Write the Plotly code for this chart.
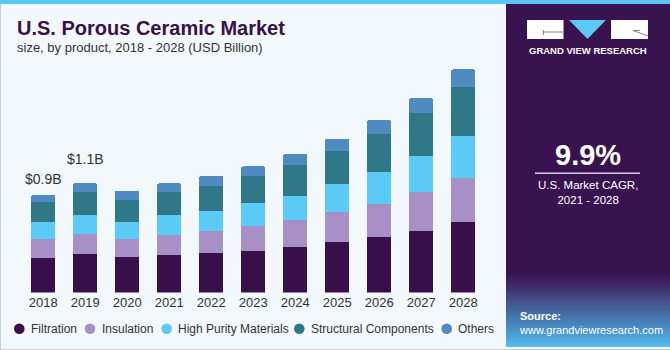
import plotly.graph_objects as go

# ---------------- data (USD Billion) ----------------
years = ["2018", "2019", "2020", "2021", "2022", "2023", "2024", "2025", "2026", "2027", "2028"]
filtration = [0.322, 0.356, 0.329, 0.344, 0.363, 0.387, 0.424, 0.465, 0.517, 0.572, 0.650]
insulation = [0.170, 0.188, 0.169, 0.188, 0.209, 0.231, 0.250, 0.281, 0.306, 0.361, 0.413]
high_purity = [0.157, 0.173, 0.155, 0.182, 0.185, 0.210, 0.219, 0.259, 0.291, 0.328, 0.383]
structural = [0.188, 0.213, 0.206, 0.213, 0.229, 0.250, 0.287, 0.303, 0.357, 0.401, 0.456]
others = [0.065, 0.081, 0.083, 0.083, 0.093, 0.090, 0.102, 0.117, 0.124, 0.136, 0.164]
series_names = ["Filtration", "Insulation", "High Purity Materials", "Structural Components", "Others"]
value_label_years = ["2018", "2019"]
value_labels = ["$0.9B", "$1.1B"]
cagr_text = "9.9%"

# ---------------- styling ----------------
W, H = 670, 350
colors = ["#380F4A", "#A690C5", "#5BCAF6", "#2E7888", "#4F8BC0"]
BG = "#F3F8FC"
PANEL = "#381350"
FONT = "Liberation Sans, Arial, sans-serif"


def X(px):
    return px / W


def Y(py):
    return 1 - py / H


base_px, top_px = 292.5, 60.0
px_per_b = 108.0

fig = go.Figure()
all_series = [filtration, insulation, high_purity, structural, others]
for name, vals, col in zip(series_names, all_series, colors):
    fig.add_trace(go.Bar(
        x=years, y=vals, name=name,
        marker=dict(color=col, line=dict(width=0)),
        showlegend=False,
        hoverinfo="skip",
    ))

totals = [sum(v) for v in zip(*all_series)]

shapes = []
annotations = []

# top strip and borders
shapes.append(dict(type="rect", xref="paper", yref="paper", x0=0, x1=1, y0=Y(4), y1=1,
                   fillcolor="#5CC6F2", line=dict(width=0), layer="below"))
shapes.append(dict(type="line", xref="paper", yref="paper", x0=X(0.5), x1=X(0.5), y0=0, y1=Y(4),
                   line=dict(color="#C8CDD2", width=1)))
shapes.append(dict(type="line", xref="paper", yref="paper", x0=0, x1=1, y0=Y(349.5), y1=Y(349.5),
                   line=dict(color="#C8CDD2", width=1)))

# right panel
shapes.append(dict(type="rect", xref="paper", yref="paper", x0=X(506), x1=1, y0=Y(347), y1=Y(4),
                   fillcolor=PANEL, line=dict(width=0), layer="below"))
# gradient at panel bottom
stops = [(272, (0x38, 0x13, 0x50)), (286, (0x3E, 0x2A, 0x68)), (300, (0x46, 0x50, 0x88)),
         (318, (0x46, 0x77, 0xB0)), (335, (0x4A, 0x9E, 0xD6)), (347, (0x55, 0xBD, 0xEC))]
for i in range(len(stops) - 1):
    y0, c0 = stops[i]
    y1, c1 = stops[i + 1]
    n = int(y1 - y0)
    for k in range(n):
        t = (k + 0.5) / n
        c = tuple(int(round(a + (b - a) * t)) for a, b in zip(c0, c1))
        shapes.append(dict(type="rect", xref="paper", yref="paper", x0=X(506), x1=1,
                           y0=Y(y0 + k + 1), y1=Y(y0 + k),
                           fillcolor="rgb(%d,%d,%d)" % c, line=dict(width=0), layer="below"))

# logo
shapes.append(dict(type="rect", xref="paper", yref="paper", x0=X(527), x1=X(563.5), y0=Y(39), y1=Y(20),
                   fillcolor="white", line=dict(width=0)))
shapes.append(dict(type="rect", xref="paper", yref="paper", x0=X(611), x1=X(648), y0=Y(39), y1=Y(20),
                   fillcolor="white", line=dict(width=0)))
shapes.append(dict(type="path", xref="paper", yref="paper",
                   path="M %f %f L %f %f L %f %f Z" % (X(569), Y(20), X(606), Y(20), X(587.5), Y(39)),
                   fillcolor="#5BC8F5", line=dict(width=0)))
shapes.append(dict(type="line", xref="paper", yref="paper", x0=X(543.5), x1=X(563.5), y0=Y(32), y1=Y(32),
                   line=dict(color="#8E8499", width=1)))
shapes.append(dict(type="line", xref="paper", yref="paper", x0=X(543.5), x1=X(543.5), y0=Y(30), y1=Y(35),
                   line=dict(color="#8E8499", width=1)))
shapes.append(dict(type="line", xref="paper", yref="paper", x0=X(633), x1=X(648), y0=Y(30.5), y1=Y(36),
                   line=dict(color="#8E8499", width=1)))
shapes.append(dict(type="line", xref="paper", yref="paper", x0=X(633), x1=X(640), y0=Y(30.5), y1=Y(30.5),
                   line=dict(color="#8E8499", width=1)))
annotations.append(dict(xref="paper", yref="paper", x=X(587.5), y=Y(51), text="<b>GRAND VIEW RESEARCH</b>",
                        showarrow=False, xanchor="center", yanchor="middle",
                        font=dict(family=FONT, size=9.5, color="white")))

# CAGR
annotations.append(dict(xref="paper", yref="paper", x=X(587.5), y=Y(155), text="<b>%s</b>" % cagr_text,
                        showarrow=False, xanchor="center", yanchor="middle",
                        font=dict(family=FONT, size=29, color="white")))
shapes.append(dict(type="line", xref="paper", yref="paper", x0=X(535), x1=X(640), y0=Y(173.3), y1=Y(173.3),
                   line=dict(color="#CFC8DC", width=1.5)))
annotations.append(dict(xref="paper", yref="paper", x=X(587.5), y=Y(193), text="U.S. Market CAGR,<br>2021 - 2028",
                        showarrow=False, xanchor="center", yanchor="middle", align="center",
                        font=dict(family=FONT, size=11.5, color="white")))

# Source
annotations.append(dict(xref="paper", yref="paper", x=X(517), y=Y(323), text="<b>Source:</b><br>www.grandviewresearch.com",
                        showarrow=False, xanchor="left", yanchor="middle", align="left",
                        font=dict(family=FONT, size=11, color="white")))

# title
annotations.append(dict(xref="paper", yref="paper", x=X(15), y=Y(28.5), text="<b>U.S. Porous Ceramic Market</b>",
                        showarrow=False, xanchor="left", yanchor="middle",
                        font=dict(family=FONT, size=20, color="#37114A")))
annotations.append(dict(xref="paper", yref="paper", x=X(15), y=Y(48), text="size, by product, 2018 - 2028 (USD Billion)",
                        showarrow=False, xanchor="left", yanchor="middle",
                        font=dict(family=FONT, size=13, color="#333333")))

# legend (circle + label for each series)
legend_cx = [19.3, 90, 166.7, 299.3, 446.7]
legend_cy = 328.7
for name, col, cx in zip(series_names, colors, legend_cx):
    r = 5.3
    shapes.append(dict(type="circle", xref="paper", yref="paper",
                       x0=X(cx - r), x1=X(cx + r), y0=Y(legend_cy + r), y1=Y(legend_cy - r),
                       fillcolor=col, line=dict(width=0)))
    annotations.append(dict(xref="paper", yref="paper", x=X(cx + 9.5), y=Y(legend_cy), text=name,
                            showarrow=False, xanchor="left", yanchor="middle",
                            font=dict(family=FONT, size=12, color="#333333")))

# value labels
shifts = [16, 24.5]
for yr, lab, sh in zip(value_label_years, value_labels, shifts):
    i = years.index(yr)
    annotations.append(dict(xref="x", yref="y", x=i, y=totals[i], text=lab, showarrow=False,
                            xanchor="center", yanchor="middle", yshift=sh,
                            font=dict(family=FONT, size=14, color="#333333")))

fig.update_layout(
    width=W, height=H,
    margin=dict(l=0, r=0, t=0, b=0, autoexpand=False),
    paper_bgcolor=BG, plot_bgcolor=BG,
    barmode="stack", bargap=0.42, barcornerradius=2,
    showlegend=False,
    xaxis=dict(type="category", domain=[X(22.2), X(484.2)], range=[-0.5, len(years) - 0.5],
               showgrid=False, showline=False, ticks="",
               tickfont=dict(family=FONT, size=13, color="#333333"), fixedrange=True),
    yaxis=dict(domain=[Y(base_px), Y(top_px)], range=[0, (base_px - top_px) / px_per_b],
               visible=False, fixedrange=True),
    shapes=shapes, annotations=annotations,
    font=dict(family=FONT),
)

fig.write_html("out.html", config={"displayModeBar": False})
